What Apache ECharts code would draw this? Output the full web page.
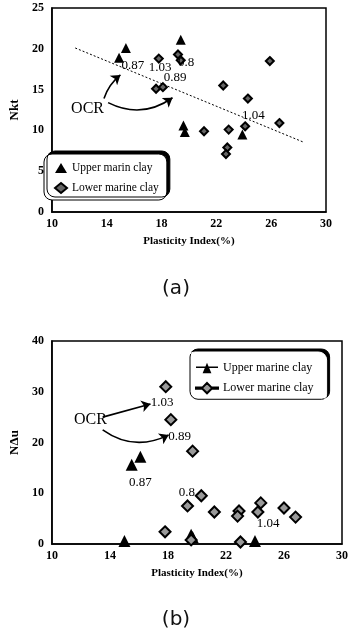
<!DOCTYPE html>
<html>
<head>
<meta charset="utf-8">
<script src="https://cdn.jsdelivr.net/npm/echarts@6/dist/echarts.min.js"></script>
<style>
  html, body { margin: 0; padding: 0; background: #fff; }
  #chart { width: 352px; height: 637px; }
</style>
</head>
<body>
<div id="chart"></div>
<script>
// Panel (a): cone factor Nkt against plasticity index
const upperA = [[14.9, 18.9], [15.4, 20.1], [19.4, 21.1], [19.6, 10.6], [19.7, 9.8], [23.9, 9.5]];
const lowerA = [[17.8, 18.8], [19.2, 19.3], [19.4, 18.6], [17.6, 15.1], [18.1, 15.3], [22.5, 15.5],
                [24.3, 13.9], [21.1, 9.9], [22.9, 10.1], [24.1, 10.5], [25.9, 18.5], [26.6, 10.9],
                [22.8, 7.9], [22.7, 7.1]];
const trendA = [[11.7, 20.1], [28.3, 8.6]];
const ocrA = [['0.87', 15.9, 17.9], ['1.03', 17.9, 17.7], ['0.8', 19.8, 18.3], ['0.89', 19.0, 16.5], ['1.04', 24.7, 11.8]];
const arrowsA = [[[13.8, 13.9], [15.0, 16.8], 0.15], [[14.1, 13.4], [18.8, 14.0], -0.3]];
const ocrTextA = [12.6, 12.7];

// Panel (b): cone factor NΔu against plasticity index
const upperB = [[15.5, 15.6], [16.1, 17.2], [15.0, 0.6], [19.6, 1.8], [19.7, 1.4], [24.0, 0.6]];
const lowerB = [[17.85, 31.0], [18.2, 24.5], [19.7, 18.3], [20.3, 9.5], [19.35, 7.5], [21.2, 6.3],
                [22.9, 6.5], [22.8, 5.5], [24.4, 8.1], [24.2, 6.3], [26.0, 7.1], [26.8, 5.3],
                [17.8, 2.4], [19.6, 0.8], [23.0, 0.4]];
const ocrB = [['1.03', 17.6, 27.8], ['0.89', 18.8, 21.1], ['0.87', 16.1, 12.2], ['0.8', 19.3, 10.1], ['1.04', 24.9, 4.1]];
const arrowsB = [[[13.5, 25.0], [16.8, 27.6], 0], [[13.5, 22.5], [18.05, 21.5], -0.3]];
const ocrTextB = [12.66, 24.5];

const xTicks = [10, 14, 18, 22, 26, 30];

const serif = 'Liberation Serif';
const tickFont = { fontFamily: serif, fontSize: 12, fontWeight: 'bold', color: '#000' };

function xAxis(gridIndex) {
  return {
    gridIndex, type: 'value', min: xTicks[0], max: xTicks[xTicks.length - 1], interval: 4,
    name: 'Plasticity Index(%)', nameLocation: 'middle', nameGap: 24,
    nameTextStyle: { fontFamily: serif, fontSize: 11, fontWeight: 'bold', color: '#000' },
    axisLine: { lineStyle: { color: '#000', width: 1.5 } },
    axisTick: { show: false }, splitLine: { show: false },
    axisLabel: Object.assign({ margin: 6 }, tickFont)
  };
}
function yAxis(gridIndex, max, interval, name) {
  return {
    gridIndex, type: 'value', min: 0, max, interval,
    name, nameLocation: 'middle', nameGap: 25, nameRotate: 90,
    nameTextStyle: { fontFamily: serif, fontSize: 13, fontWeight: 'bold', color: '#000' },
    axisLine: { lineStyle: { color: '#000', width: 1.5 } },
    axisTick: { show: false }, splitLine: { show: false },
    axisLabel: Object.assign({ margin: 8 }, tickFont)
  };
}

function labelSeries(items, idx) {
  return {
    type: 'scatter', xAxisIndex: idx, yAxisIndex: idx, symbolSize: 0, silent: true,
    itemStyle: { opacity: 1 },
    data: items.map(d => ({ name: d[0], value: [d[1], d[2]] })),
    label: { show: true, position: 'inside', formatter: p => p.name,
             fontFamily: serif, fontSize: 13, color: '#000' }
  };
}
function arrowSeries(items, idx) {
  return {
    type: 'lines', coordinateSystem: 'cartesian2d', xAxisIndex: idx, yAxisIndex: idx,
    symbol: ['none', 'arrow'], symbolSize: 9, silent: true,
    data: items.map(a => ({ coords: [a[0], a[1]], lineStyle: { curveness: a[2] } })),
    lineStyle: { color: '#000', width: 1.6, opacity: 1 }
  };
}
function ocrWord(pos, idx) {
  return {
    type: 'scatter', xAxisIndex: idx, yAxisIndex: idx, symbolSize: 0, silent: true,
    itemStyle: { opacity: 1 },
    data: [{ name: 'OCR', value: pos }],
    label: { show: true, position: 'inside', formatter: 'OCR',
             fontFamily: serif, fontSize: 16, color: '#000' }
  };
}

// legend icons for panel (b): marker on a short line
const triLineIcon = 'path://M0,9 L30,9 L30,11 L0,11 Z M9,18 L15,4 L21,18 Z';
const diaLineIcon = 'path://M0,9 L3,9 L3,11 L0,11 Z M5,9 L8,9 L8,11 L5,11 Z M22,9 L25,9 L25,11 L22,11 Z M27,9 L30,9 L30,11 L27,11 Z M15,3 L22,10 L15,17 L8,10 Z';

const legendBox = {
  backgroundColor: '#fff', borderColor: '#000', borderWidth: 1, borderRadius: 8,
  shadowColor: '#000', shadowBlur: 0.01, shadowOffsetX: 3, shadowOffsetY: -3,
  orient: 'vertical', itemGap: 8,
  textStyle: { fontFamily: serif, fontSize: 12, color: '#000' }
};

const chart = echarts.init(document.getElementById('chart'), null, { renderer: 'canvas' });
chart.setOption({
  animation: false,
  grid: [
    { left: 38, right: 26, top: 8, height: 204, show: true, borderColor: '#000', borderWidth: 1.5, backgroundColor: 'transparent' },
    { left: 49, right: 10, top: 341, height: 203, show: true, borderColor: '#000', borderWidth: 1.5, backgroundColor: 'transparent' }
  ],
  xAxis: [xAxis(0), xAxis(1)],
  yAxis: [yAxis(0, 25, 5, 'Nkt'), yAxis(1, 40, 10, 'NΔu')],
  legend: [
    Object.assign({}, legendBox, {
      left: 44, top: 154, padding: [8, 8, 6, 10], itemWidth: 12, itemHeight: 10,
      textStyle: { fontFamily: serif, fontSize: 11.5, color: '#000' },
      data: [{ name: 'Upper marin clay', icon: 'triangle' }, { name: 'Lower marine clay', icon: 'diamond' }]
    }),
    Object.assign({}, legendBox, {
      left: 187, top: 352, padding: [10, 10, 8, 8], itemWidth: 22, itemHeight: 12,
      borderColor: '#fff',
      data: [{ name: 'Upper marine clay', icon: triLineIcon }, { name: 'Lower marine clay ', icon: diaLineIcon }]
    })
  ],
  graphic: [
    { type: 'text', left: 'center', top: 279, style: { text: '(a)', font: '20px "DejaVu Sans"', fill: '#111' } },
    { type: 'text', left: 'center', top: 610, style: { text: '(b)', font: '20px "DejaVu Sans"', fill: '#111' } }
  ],
  series: [
    { name: 'trend', type: 'line', xAxisIndex: 0, yAxisIndex: 0, data: trendA, showSymbol: false, silent: true,
      lineStyle: { color: '#000', width: 1, type: [2, 2] } },
    { name: 'Upper marin clay', type: 'scatter', xAxisIndex: 0, yAxisIndex: 0, data: upperA,
      symbol: 'triangle', symbolSize: 10, itemStyle: { color: '#000', opacity: 1 } },
    { name: 'Lower marine clay', type: 'scatter', xAxisIndex: 0, yAxisIndex: 0, data: lowerA,
      symbol: 'diamond', symbolSize: 8, itemStyle: { color: '#666', borderColor: '#000', borderWidth: 2, opacity: 1 } },
    { name: 'Upper marine clay', type: 'scatter', xAxisIndex: 1, yAxisIndex: 1, data: upperB,
      symbol: 'triangle', symbolSize: 12, itemStyle: { color: '#000', opacity: 1 } },
    { name: 'Lower marine clay ', type: 'scatter', xAxisIndex: 1, yAxisIndex: 1, data: lowerB,
      symbol: 'diamond', symbolSize: 11, itemStyle: { color: '#999', borderColor: '#000', borderWidth: 2, opacity: 1 } },
    labelSeries(ocrA, 0), labelSeries(ocrB, 1),
    arrowSeries(arrowsA, 0), arrowSeries(arrowsB, 1),
    ocrWord(ocrTextA, 0), ocrWord(ocrTextB, 1)
  ]
});
</script>
</body>
</html>
